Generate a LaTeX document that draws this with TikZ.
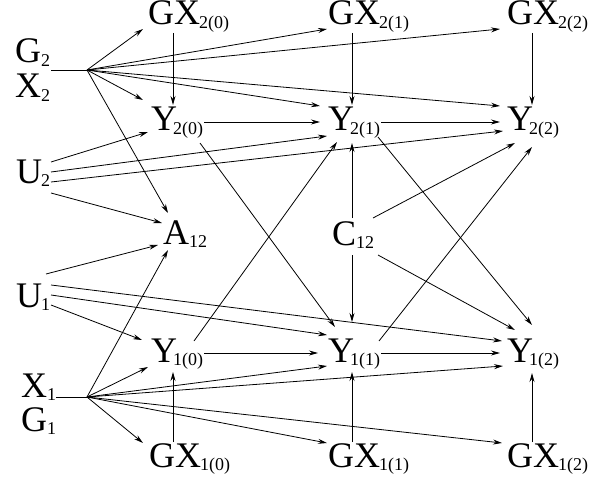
\documentclass[tikz,border=0pt]{standalone}
\usepackage{fontspec}
\setmainfont{Liberation Serif}
\usetikzlibrary{arrows.meta}
\newcommand\glab[3][0pt]{#2\kern#1\raisebox{-3.5pt}{\fontsize{18}{18}\selectfont #3}}
\begin{document}
\begin{tikzpicture}[x=1pt,y=-1pt,
  lbl/.style={inner sep=0pt, anchor=base west, text height=24pt, text depth=6pt,
              font=\fontsize{36}{40}\selectfont},
  arr/.style={-{Stealth[length=9pt,width=5pt,inset=3pt]}, line width=0.8pt},
  ln/.style={line width=0.8pt}]
\useasboundingbox (0,0) rectangle (608,484);
% labels
\node[lbl] (g2) at (15,63) {\glab{G}{2}};
\node[lbl] (x2) at (15,98) {\glab{X}{2}};
\node[lbl] (x1) at (21,397) {\glab{X}{1}};
\node[lbl] (g1) at (21,431) {\glab{G}{1}};
\node[lbl] (u2) at (16,183) {\glab[-1pt]{U}{2}};
\node[lbl] (u1) at (16,307) {\glab[-1pt]{U}{1}};
\node[lbl] (gx20) at (148,25) {\glab[-1pt]{GX}{2(0)}};
\node[lbl] (gx21) at (328,25) {\glab[-1pt]{GX}{2(1)}};
\node[lbl] (gx22) at (507,25) {\glab[-1pt]{GX}{2(2)}};
\node[lbl] (y20) at (151,131) {\glab[-4pt]{Y}{2(0)}};
\node[lbl] (y21) at (328,131) {\glab[-4pt]{Y}{2(1)}};
\node[lbl] (y22) at (507,131) {\glab[-4pt]{Y}{2(2)}};
\node[lbl] (a12) at (163,244) {\glab{A}{12}};
\node[lbl] (c12) at (332,245) {\glab{C}{12}};
\node[lbl] (y10) at (151,362) {\glab[-4pt]{Y}{1(0)}};
\node[lbl] (y11) at (328,362) {\glab[-4pt]{Y}{1(1)}};
\node[lbl] (y12) at (507,362) {\glab[-4pt]{Y}{1(2)}};
\node[lbl] (gx10) at (149,467) {\glab[-1pt]{GX}{1(0)}};
\node[lbl] (gx11) at (328,467) {\glab[-1pt]{GX}{1(1)}};
\node[lbl] (gx12) at (507,467) {\glab[-1pt]{GX}{1(2)}};
\coordinate (hub2) at (87,70);
\coordinate (hub1) at (87,397);
% hub lines
\draw[ln] ([shift={(36,-28)}]x2.base west) -- (hub2);
\draw[ln] ([shift={(35,0)}]x1.base west) -- (hub1);
% hub2 arrows
\draw[arr] (hub2) -- ([shift={(-5,4)}]gx20.base west);
\draw[arr] (hub2) -- ([shift={(-1,4)}]gx21.base west);
\draw[arr] (hub2) -- ([shift={(-7,4)}]gx22.base west);
\draw[arr] (hub2) -- ([shift={(-8,-31)}]y20.base west);
\draw[arr] (hub2) -- ([shift={(-8,-25)}]y21.base west);
\draw[arr] (hub2) -- ([shift={(-7,-25)}]y22.base west);
\draw[arr] (hub2) -- ([shift={(5,-31)}]a12.base west);
% top verticals
\draw[arr] ([shift={(25,8)}]gx20.base west) -- ([shift={(22,-26)}]y20.base west);
\draw[arr] ([shift={(24,8)}]gx21.base west) -- ([shift={(24,-26)}]y21.base west);
\draw[arr] ([shift={(25,8)}]gx22.base west) -- ([shift={(25,-26)}]y22.base west);
% Y2 row
\draw[arr] ([xshift=1pt]y20.east) -- ([shift={(-8,-9)}]y21.base west);
\draw[arr] ([xshift=1pt]y21.east) -- ([shift={(-7,-9)}]y22.base west);
% U2
\draw[arr] ([shift={(35,-21)}]u2.base west) -- ([shift={(-3,1)}]y20.base west);
\draw[arr] ([shift={(35,-11)}]u2.base west) -- ([shift={(-1,5)}]y21.base west);
\draw[arr] ([shift={(35,-1)}]u2.base west) -- ([shift={(-4,0)}]y22.base west);
\draw[arr] ([shift={(35,10)}]u2.base west) -- ([shift={(-1,-21)}]a12.base west);
% C12
\draw[arr] ([shift={(20,-27)}]c12.base west) -- ([shift={(24,12)}]y21.base west);
\draw[arr] ([shift={(20,10)}]c12.base west) -- ([shift={(24,-40)}]y11.base west);
\draw[arr] ([shift={(41,-27)}]c12.base west) -- ([shift={(8,12)}]y22.base west);
\draw[arr] ([shift={(46,10)}]c12.base west) -- ([shift={(8,-32)}]y12.base west);
% crossing diagonals
\draw[arr] ([shift={(49,12)}]y20.base west) -- ([shift={(7,-35)}]y11.base west);
\draw[arr] ([shift={(50,6)}]y21.base west) -- ([shift={(25,-37)}]y12.base west);
\draw[arr] ([shift={(43,-21)}]y10.base west) -- ([shift={(9,11)}]y21.base west);
\draw[arr] ([shift={(51,-21)}]y11.base west) -- ([shift={(25,16)}]y22.base west);
% A12 from below
\draw[arr] ([shift={(30,-33)}]u1.base west) -- ([shift={(-5,1)}]a12.base west);
\draw[arr] (hub1) -- ([shift={(5,6)}]a12.base west);
% U1
\draw[arr] ([shift={(35,-22)}]u1.base west) -- ([shift={(-5,-21)}]y12.base west);
\draw[arr] ([shift={(35,-12)}]u1.base west) -- ([shift={(-1,-27)}]y11.base west);
\draw[arr] ([shift={(35,-2)}]u1.base west) -- ([shift={(-9,-22)}]y10.base west);
% Y1 row
\draw[arr] ([xshift=1pt]y10.east) -- ([shift={(-10,-9)}]y11.base west);
\draw[arr] ([xshift=1pt]y11.east) -- ([shift={(-7,-9)}]y12.base west);
% bottom verticals
\draw[arr] ([shift={(24,-25)}]gx10.base west) -- ([shift={(22,10)}]y10.base west);
\draw[arr] ([shift={(24,-25)}]gx11.base west) -- ([shift={(24,10)}]y11.base west);
\draw[arr] ([shift={(25,-25)}]gx12.base west) -- ([shift={(25,11)}]y12.base west);
% hub1 arrows
\draw[arr] (hub1) -- ([shift={(-3,5)}]y10.base west);
\draw[arr] (hub1) -- ([shift={(-6,-24)}]gx10.base west);
\draw[arr] (hub1) -- ([shift={(-1,4)}]y11.base west);
\draw[arr] (hub1) -- ([shift={(-4,4)}]y12.base west);
\draw[arr] (hub1) -- ([shift={(-1,-24)}]gx11.base west);
\draw[arr] (hub1) -- ([shift={(-5,-24)}]gx12.base west);
\end{tikzpicture}
\end{document}
